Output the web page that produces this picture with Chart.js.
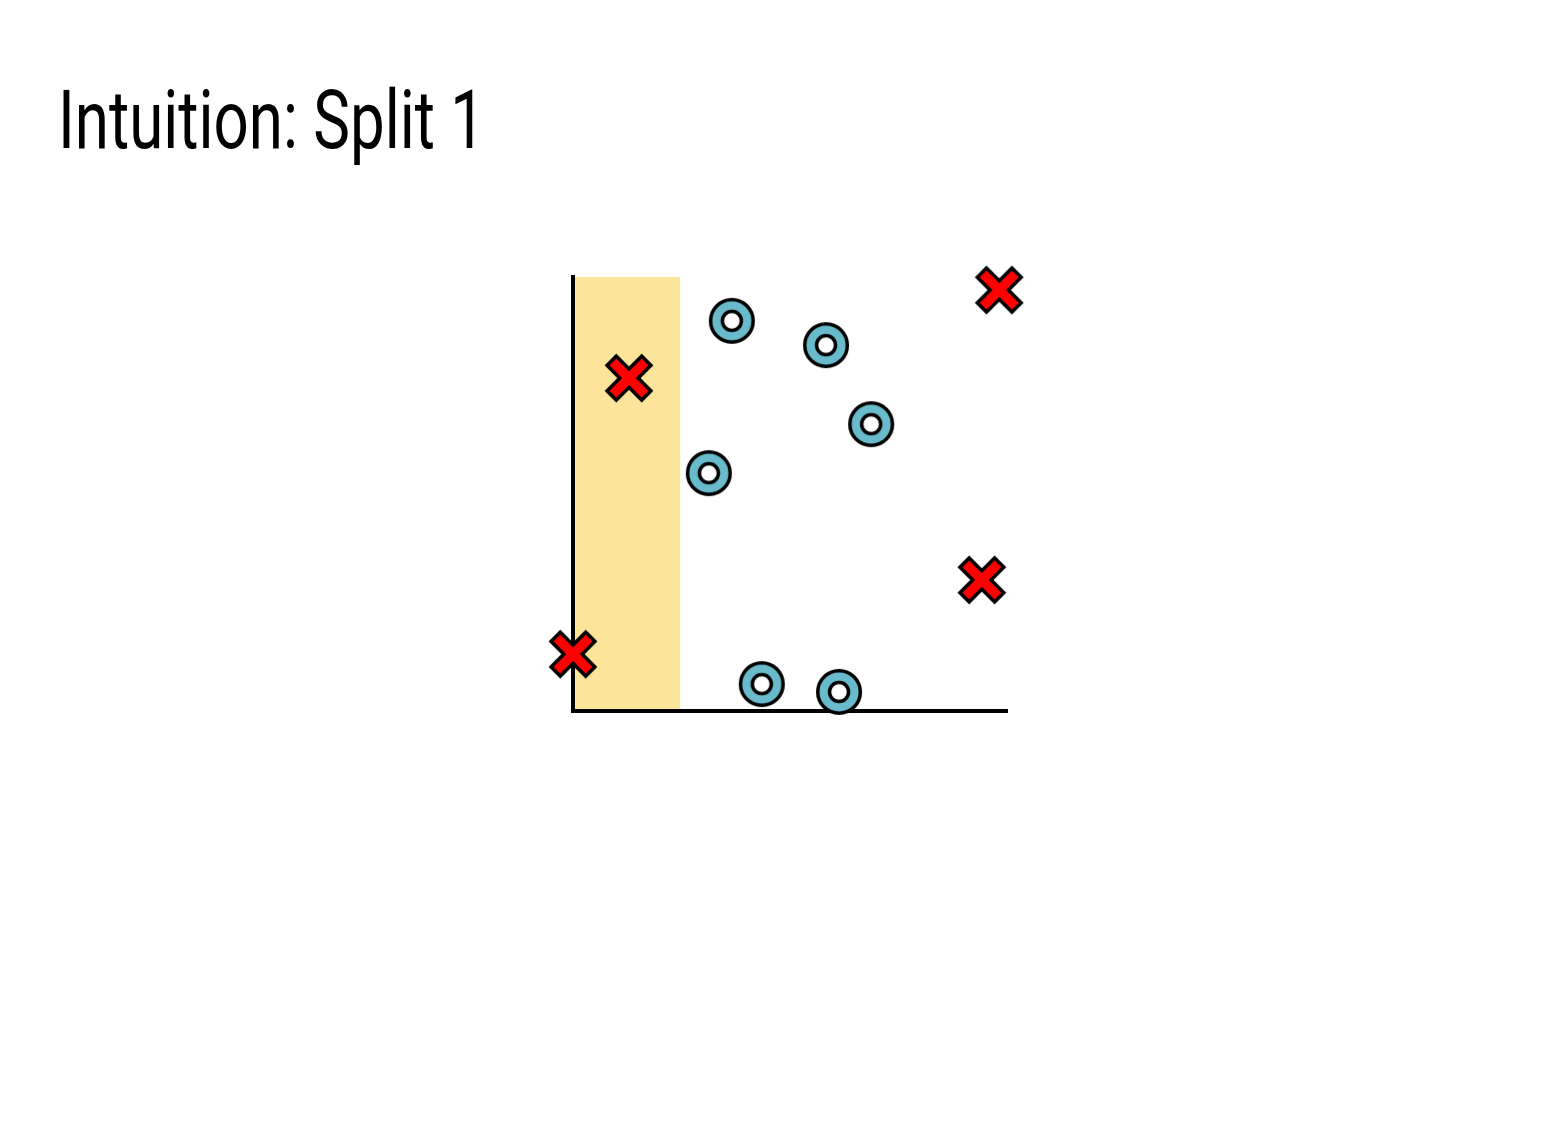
<!DOCTYPE html>
<html>
<head>
<meta charset="utf-8">
<script src="https://cdn.jsdelivr.net/npm/chart.js@4.4.1/dist/chart.umd.min.js"></script>
<style>
  html, body { margin: 0; padding: 0; background: #fff; }
  #wrap { position: relative; width: 1561px; height: 1138px; overflow: hidden; }
  #title {
    position: absolute; left: 58px; top: 0; margin: 0;
    font-family: Roboto, "Liberation Sans", sans-serif; font-weight: 400;
    font-size: 82px; line-height: 1; color: #000; white-space: nowrap;
    transform-origin: 0 0;
  }
  #chart { position: absolute; left: 0; top: 0; }
</style>
</head>
<body>
<div id="wrap">
  <div id="title">Intuition: Split 1</div>
  <canvas id="chart" width="1561" height="1138"></canvas>
</div>
<script>
// data (axis units 0..10)
var crossX = [9.82, 1.29, 9.42, 0.0];
var crossY = [9.70, 7.67, 3.02, 1.31];
var ringX = [3.66, 5.83, 6.87, 3.13, 4.35, 6.13];
var ringY = [8.99, 8.43, 6.61, 5.48, 0.62, 0.44];
var splitRange = [0, 2.47];
var axisRange = [0, 10];

// fit title width to the reference
var t = document.getElementById('title');
var w = t.getBoundingClientRect().width;
t.style.transform = 'scaleX(' + (427 / w) + ')';
t.style.top = (155 - 82 * 0.93) + 'px';

function makeCross() {
  var c = document.createElement('canvas');
  c.width = 54; c.height = 54;
  var g = c.getContext('2d');
  var a = 6.5, L = 24.5;
  var pts = [[a,L],[-a,L],[-a,a],[-L,a],[-L,-a],[-a,-a],[-a,-L],[a,-L],[a,-a],[L,-a],[L,a],[a,a]];
  g.translate(27, 27);
  g.rotate(Math.PI / 4);
  g.beginPath();
  pts.forEach(function(p, i) { if (i === 0) g.moveTo(p[0], p[1]); else g.lineTo(p[0], p[1]); });
  g.closePath();
  g.fillStyle = '#ff0000';
  g.fill();
  g.lineWidth = 3.5;
  g.strokeStyle = '#000';
  g.stroke();
  return c;
}

function makeRing() {
  var c = document.createElement('canvas');
  c.width = 50; c.height = 50;
  var g = c.getContext('2d');
  g.lineWidth = 3.5;
  g.strokeStyle = '#000';
  g.beginPath(); g.arc(25, 25, 21.3, 0, Math.PI * 2);
  g.fillStyle = '#69bbcb'; g.fill(); g.stroke();
  g.beginPath(); g.arc(25, 25, 9.5, 0, Math.PI * 2);
  g.fillStyle = '#fff'; g.fill(); g.stroke();
  return c;
}

function toPoints(xs, ys) {
  return xs.map(function(x, i) { return { x: x, y: ys[i] }; });
}

// shaded split region, drawn under axes and points
var splitBand = {
  id: 'splitBand',
  beforeDraw: function(chart) {
    var ctx = chart.ctx, xs = chart.scales.x, area = chart.chartArea;
    var x0 = xs.getPixelForValue(splitRange[0]);
    var x1 = xs.getPixelForValue(splitRange[1]);
    ctx.save();
    ctx.fillStyle = '#fce59b';
    ctx.fillRect(x0, area.top, x1 - x0, area.bottom - area.top);
    ctx.restore();
  }
};

new Chart(document.getElementById('chart').getContext('2d'), {
  type: 'scatter',
  data: {
    datasets: [{
      data: toPoints(ringX, ringY),
      pointStyle: makeRing(),
      clip: false
    }, {
      data: toPoints(crossX, crossY),
      pointStyle: makeCross(),
      clip: false
    }]
  },
  options: {
    responsive: false,
    animation: false,
    events: [],
    layout: { padding: { left: 573, top: 277, right: 554, bottom: 427 } },
    scales: {
      x: {
        z: 1,
        min: axisRange[0], max: axisRange[1],
        grid: { display: false },
        ticks: { display: false },
        border: { display: true, color: '#000', width: 4 },
        afterFit: function(s) { s.height = 0; }
      },
      y: {
        z: 1,
        min: axisRange[0], max: axisRange[1],
        grid: { display: false },
        ticks: { display: false },
        border: { display: true, color: '#000', width: 4 },
        afterFit: function(s) { s.width = 0; }
      }
    },
    plugins: {
      legend: { display: false },
      tooltip: { enabled: false }
    }
  },
  plugins: [splitBand]
});
</script>
</body>
</html>
